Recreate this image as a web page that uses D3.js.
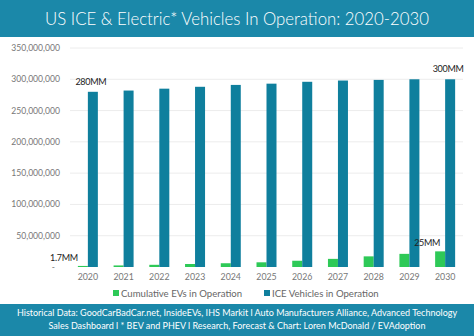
<!DOCTYPE html>
<html>
<head>
<meta charset="utf-8">
<script src="https://cdn.jsdelivr.net/npm/d3@7"></script>
<style>
  body { margin: 0; background: #fff; }
  svg { display: block; font-family: Lato, "Open Sans", sans-serif; }
</style>
</head>
<body>
<div id="chart-area"></div>
<script>
const years = ['2020','2021','2022','2023','2024','2025','2026','2027','2028','2029','2030']
const evs = [1.7, 2.5, 3.5, 4.8, 6, 7.5, 10, 13, 17, 21, 25].map(v => v * 1e6)
const ice = [280, 282, 285, 288, 291, 293, 296, 298, 299, 300, 300].map(v => v * 1e6)
const yTicks = [0, 50e6, 100e6, 150e6, 200e6, 250e6, 300e6, 350e6]
const seriesNames = ['Cumulative EVs in Operation', 'ICE Vehicles in Operation']
const barLabels = [
  {series: 1, year: '2020', text: '280MM'},
  {series: 1, year: '2030', text: '300MM'},
  {series: 0, year: '2020', text: '1.7MM'},
  {series: 0, year: '2030', text: '25MM'}
]

const W = 474, H = 336
const teal = '#1b88a9', iceColor = '#0f7f9d', evColor = '#2ec957'

const svg = d3.select('#chart-area').append('svg')
  .attr('width', W)
  .attr('height', H)

// title band
svg.append('rect').attr('x', 0).attr('y', 0).attr('width', W).attr('height', 37).attr('fill', teal)
svg.append('text')
  .attr('x', W / 2).attr('y', 25)
  .attr('text-anchor', 'middle')
  .attr('fill', '#fff')
  .style('font-size', '16.8px')
  .style('font-weight', 300)
  .text('US ICE & Electric* Vehicles In Operation: 2020-2030')

// scales
const x = d3.scaleBand().domain(years).range([70, 463])
const y = d3.scaleLinear().domain([0, 350e6]).range([267, 48])
const barW = 10

// grid + y labels
const g = svg.append('g')
g.selectAll('line.grid').data(yTicks.filter(d => d > 0)).enter().append('line')
  .attr('x1', 70).attr('x2', 463)
  .attr('y1', d => y(d)).attr('y2', d => y(d))
  .attr('stroke', '#ececec').attr('stroke-width', 1)

const fmt = d3.format(',')
g.selectAll('text.ytick').data(yTicks).enter().append('text')
  .attr('x', d => d === 0 ? 55 : 60)
  .attr('y', d => y(d) + 3)
  .attr('text-anchor', 'end')
  .attr('fill', '#777')
  .style('font-size', '8.6px')
  .text(d => d === 0 ? '-' : fmt(d))

// bars
const cx = d => x(d) + x.bandwidth() / 2
g.selectAll('rect.ev').data(years).enter().append('rect')
  .attr('x', d => cx(d) - barW)
  .attr('y', (d, i) => y(evs[i]))
  .attr('width', barW)
  .attr('height', (d, i) => y(0) - y(evs[i]))
  .attr('fill', evColor)

g.selectAll('rect.ice').data(years).enter().append('rect')
  .attr('x', d => cx(d))
  .attr('y', (d, i) => y(ice[i]))
  .attr('width', barW)
  .attr('height', (d, i) => y(0) - y(ice[i]))
  .attr('fill', iceColor)

// x labels
g.selectAll('text.xtick').data(years).enter().append('text')
  .attr('x', d => cx(d))
  .attr('y', 280)
  .attr('text-anchor', 'middle')
  .attr('fill', '#777')
  .style('font-size', '8.8px')
  .text(d => d)

// value labels
g.selectAll('text.vlab').data(barLabels).enter().append('text')
  .attr('x', d => {
    if (d.series === 1) return cx(d.year) + barW / 2 - 2
    return d.year === '2020' ? cx(d.year) - barW : cx(d.year) - 18
  })
  .attr('y', d => {
    const v = d.series === 1 ? ice[years.indexOf(d.year)] : evs[years.indexOf(d.year)]
    if (d.series === 1) return y(v) - 7
    return y(v) - 5
  })
  .attr('text-anchor', d => d.series === 0 && d.year === '2020' ? 'end' : 'middle')
  .attr('fill', '#222')
  .style('font-size', '9px')
  .style('letter-spacing', '-0.3px')
  .text(d => d.text)

// legend
const legend = svg.append('g')
const legX = [113, 264]
seriesNames.forEach((name, i) => {
  legend.append('rect')
    .attr('x', legX[i]).attr('y', 290)
    .attr('width', 6).attr('height', 6)
    .attr('fill', i === 0 ? evColor : iceColor)
  legend.append('text')
    .attr('x', legX[i] + 8).attr('y', 297)
    .attr('fill', '#666')
    .style('font-size', '9.6px')
    .text(name)
})

// footer
svg.append('rect').attr('x', 0).attr('y', 304).attr('width', W).attr('height', H - 304).attr('fill', teal)
const foot = ['Historical Data: GoodCarBadCar.net, InsideEVs, IHS Markit l Auto Manufacturers Alliance, Advanced Technology',
  'Sales Dashboard l * BEV and PHEV l Research, Forecast & Chart: Loren McDonald / EVAdoption']
svg.selectAll('text.foot').data(foot).enter().append('text')
  .attr('x', W / 2)
  .attr('y', (d, i) => 316 + i * 12.5)
  .attr('text-anchor', 'middle')
  .attr('fill', '#fff')
  .style('font-size', '9px')
  .text(d => d)
</script>
</body>
</html>
